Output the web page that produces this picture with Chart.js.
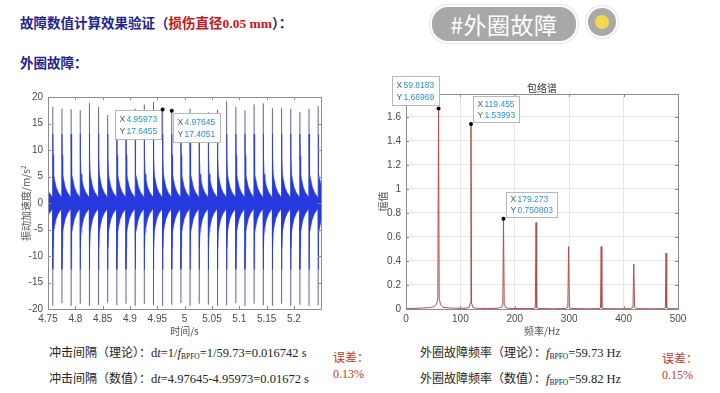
<!DOCTYPE html>
<html>
<head>
<meta charset="utf-8">
<script src="https://cdn.jsdelivr.net/npm/chart.js@4.4.1/dist/chart.umd.min.js"></script>
<style>
  body { margin: 0; background: #fff; }
  #page { position: relative; width: 720px; height: 393px; overflow: hidden; background: #fff;
          font-family: "Noto Sans CJK SC", sans-serif; }
  .t { position: absolute; white-space: nowrap; }
  .head { font-size: 13.5px; line-height: 14px; font-weight: bold; color: #23238f; }
  .head .red { color: #c4161c; }
  .num { font-family: "Liberation Serif", serif; }
  .line { font-size: 12px; line-height: 14px; color: #222; }
  .line .eq { font-family: "Liberation Serif", serif; font-size: 12.5px; }
  .line sub { font-size: 7.5px; vertical-align: -2px; }
  .err { font-size: 12px; line-height: 14px; color: #c0392b; }
  #pill { position: absolute; left: 430px; top: 5px; width: 144px; height: 34px; border-radius: 18px;
          background: #a8a8a8; border: 2px solid #fff; box-shadow: 0 0 0 1px #e2e2e2;
          color: #fff; font-size: 23px; line-height: 34px; text-align: center; letter-spacing: 0.5px; }
  #dot { position: absolute; left: 588px; top: 8px; width: 28px; height: 28px; border-radius: 50%;
         background: #a9a9a9; box-shadow: 0 0 0 2px #fff, 0 0 0 3px #e4e4e4; }
  #dot::after { content: ""; position: absolute; left: 7px; top: 7px; width: 14px; height: 14px;
                border-radius: 50%; background: #f4d94a; }
  canvas { position: absolute; }
</style>
</head>
<body>
<div id="page">
  <div class="t head" style="left:20px;top:15px">故障数值计算效果验证（<span class="red">损伤直径<span class="num">0.05 mm</span></span>）：</div>
  <div class="t head" style="left:20px;top:55px">外圈故障：</div>
  <div id="pill">#外圈故障</div>
  <div id="dot"></div>

  <canvas id="waveChart" width="340" height="254" style="left:0;top:86px"></canvas>
  <canvas id="specChart" width="360" height="264" style="left:360px;top:76px"></canvas>

  <div class="t line" style="left:49px;top:345px">冲击间隔（理论）：<span class="eq">d<i>t</i>=1/<i>f</i><sub>BPFO</sub>=1/59.73=0.016742 s</span></div>
  <div class="t line" style="left:49px;top:371px">冲击间隔（数值）：<span class="eq">d<i>t</i>=4.97645-4.95973=0.01672 s</span></div>
  <div class="t err" style="left:333px;top:350px">误差：</div>
  <div class="t err num" style="left:333px;top:367px">0.13%</div>

  <div class="t line" style="left:420px;top:345px">外圈故障频率（理论）：<span class="eq"><i>f</i><sub>BPFO</sub>=59.73 Hz</span></div>
  <div class="t line" style="left:420px;top:371px">外圈故障频率（数值）：<span class="eq"><i>f</i><sub>BPFO</sub>=59.82 Hz</span></div>
  <div class="t err" style="left:662px;top:351px">误差：</div>
  <div class="t err num" style="left:662px;top:368px">0.15%</div>
</div>

<script>
// 时域波形：冲击时刻、每次冲击的峰值
const impulseTimes = [4.7421, 4.7588, 4.7755, 4.7923, 4.8090, 4.8258, 4.8425, 4.8592, 4.8760, 4.8927,
  4.9095, 4.9262, 4.9430, 4.95973, 4.97645, 4.9932, 5.0099, 5.0267, 5.0434, 5.0602, 5.0769,
  5.0937, 5.1104, 5.1271, 5.1439, 5.1606, 5.1774, 5.1941, 5.2109, 5.2276, 5.2443];
const spikeTop = [18.0, 18.1, 17.8, 17.7, 17.5, 18.9, 18.1, 16.6, 16.6, 16.9, 17.8, 18.6, 19.1,
  17.6455, 17.4051, 16.6, 17.8, 16.6, 17.1, 17.6, 19.2, 18.1, 17.5, 18.6, 18.8, 17.9, 17.9,
  17.8, 17.2, 17.8, 18.3];
const spikeBottom = [-19.0, -19.4, -18.9, -19.4, -19.0, -19.4, -19.2, -18.8, -19.3, -19.0, -19.4,
  -19.0, -19.3, -19.4, -19.2, -18.9, -19.4, -19.0, -19.2, -19.4, -19.3, -18.9, -19.4, -19.0,
  -19.3, -19.4, -19.0, -19.4, -19.2, -19.4, -19.3];
// 每次冲击后的衰减包络（相对冲击时刻的偏移 / 上下包络幅值）
const envOffset = [0, 0.0005, 0.0015, 0.003, 0.006, 0.010, 0.0145, 0.0165];
const envUpper = [13, 9, 5.5, 4.5, 3, 2, 1.3, 1.0];
const envLower = [-12.5, -8.5, -5.5, -4.5, -3, -2, -1.3, -1.0];
const waveXTicks = [4.75, 4.8, 4.85, 4.9, 4.95, 5, 5.05, 5.1, 5.15, 5.2];
const waveYTicks = [-20, -15, -10, -5, 0, 5, 10, 15, 20];

// 包络谱
const specFreq = [0, 10, 30, 45, 52, 56, 58.5, 59.8183, 61, 63.5, 68, 80, 100,
  112, 116, 118.5, 119.455, 120.5, 123, 130,
  150, 170, 175.5, 178, 179.273, 180.5, 183, 190,
  220, 235, 237.8, 239, 240.2, 243,
  270, 293, 297.5, 298.9, 300.3, 304,
  330, 355, 357.6, 358.8, 360, 362.5,
  390, 413, 417.2, 418.7, 420.2, 424,
  450, 473, 476.8, 478, 479.2, 483, 500];
const specAmp = [0.002, 0.004, 0.008, 0.012, 0.02, 0.04, 0.09, 1.66969, 0.09, 0.035, 0.015, 0.008, 0.006,
  0.006, 0.015, 0.05, 1.53993, 0.05, 0.012, 0.006,
  0.004, 0.006, 0.015, 0.04, 0.750803, 0.04, 0.012, 0.005,
  0.003, 0.004, 0.012, 0.72, 0.012, 0.004,
  0.002, 0.004, 0.015, 0.52, 0.015, 0.004,
  0.002, 0.003, 0.01, 0.52, 0.01, 0.003,
  0.002, 0.003, 0.015, 0.375, 0.015, 0.003,
  0.002, 0.003, 0.01, 0.465, 0.01, 0.003, 0.002];
const specXTicks = [0, 100, 200, 300, 400, 500];
const specYTicks = [0, 0.2, 0.4, 0.6, 0.8, 1, 1.2, 1.4, 1.6];

// 数据提示
const waveTips = [
  { x: 4.95973, y: 17.6455, xs: '4.95973', ys: '17.6455', dx: -48, dy: 1, w: 46, h: 29 },
  { x: 4.97645, y: 17.4051, xs: '4.97645', ys: '17.4051', dx: 1, dy: 2, w: 47, h: 29 }
];
const specTips = [
  { x: 59.8183, y: 1.66969, xs: '59.8183', ys: '1.66969', dx: -47, dy: -32, w: 47, h: 29 },
  { x: 119.455, y: 1.53993, xs: '119.455', ys: '1.53993', dx: 2, dy: -28, w: 46, h: 26 },
  { x: 179.273, y: 0.750803, xs: '179.273', ys: '0.750803', dx: 2, dy: -27, w: 51, h: 25 }
];

const TICK_FONT = { family: 'Liberation Sans, Arial, sans-serif', size: 10 };
const LABEL_FONT = { family: 'Noto Sans CJK SC, sans-serif', size: 10 };

// 坐标框 + 向内的刻度线
const boxPlugin = {
  id: 'boxPlugin',
  afterDraw(chart) {
    const { ctx, chartArea: a, scales } = chart;
    ctx.save();
    ctx.strokeStyle = '#8c8c8c';
    ctx.lineWidth = 1;
    ctx.strokeRect(Math.round(a.left) + 0.5, Math.round(a.top) + 0.5,
      Math.round(a.right - a.left), Math.round(a.bottom - a.top));
    ctx.beginPath();
    scales.x.ticks.forEach(t => {
      const px = Math.round(scales.x.getPixelForValue(t.value)) + 0.5;
      ctx.moveTo(px, a.bottom); ctx.lineTo(px, a.bottom - 3);
      ctx.moveTo(px, a.top); ctx.lineTo(px, a.top + 3);
    });
    scales.y.ticks.forEach(t => {
      const py = Math.round(scales.y.getPixelForValue(t.value)) + 0.5;
      ctx.moveTo(a.left, py); ctx.lineTo(a.left + 3, py);
      ctx.moveTo(a.right, py); ctx.lineTo(a.right - 3, py);
    });
    ctx.stroke();
    const title = chart.options.plugins.boxPlugin && chart.options.plugins.boxPlugin.title;
    if (title) {
      ctx.fillStyle = '#333';
      ctx.font = '10px "Noto Sans CJK SC"';
      ctx.textAlign = 'center';
      ctx.textBaseline = 'middle';
      ctx.fillText(title, (a.left + a.right) / 2, a.top - 6);
    }
    ctx.restore();
  }
};

const tipPlugin = {
  id: 'tipPlugin',
  afterDraw(chart, args, opts) {
    const { ctx, scales } = chart;
    (opts.items || []).forEach(tip => {
      const px = scales.x.getPixelForValue(tip.x);
      const py = scales.y.getPixelForValue(tip.y);
      const bx = Math.round(px + tip.dx) + 0.5, by = Math.round(py + tip.dy) + 0.5;
      ctx.save();
      ctx.fillStyle = 'rgba(255,255,255,0.95)';
      ctx.strokeStyle = '#b8b8b8';
      ctx.lineWidth = 1;
      ctx.fillRect(bx, by, tip.w, tip.h);
      ctx.strokeRect(bx, by, tip.w, tip.h);
      ctx.font = '8.5px "Liberation Sans", Arial';
      ctx.textBaseline = 'middle';
      const rows = [['X', tip.xs], ['Y', tip.ys]];
      rows.forEach((r, i) => {
        const ty = by + tip.h * (i === 0 ? 0.3 : 0.72);
        ctx.fillStyle = '#555';
        ctx.fillText(r[0], bx + 4, ty);
        ctx.fillStyle = '#2f94c8';
        ctx.fillText(r[1], bx + 11, ty);
      });
      ctx.fillStyle = '#000';
      ctx.beginPath();
      ctx.arc(px, py, 2, 0, Math.PI * 2);
      ctx.fill();
      ctx.restore();
    });
  }
};

// 构造波形点
const upperPts = [], lowerPts = [], spikePts = [];
impulseTimes.forEach((t, i) => {
  envOffset.forEach((o, j) => {
    upperPts.push({ x: t + o, y: envUpper[j] });
    lowerPts.push({ x: t + o, y: envLower[j] });
  });
  spikePts.push({ x: t, y: spikeBottom[i] }, { x: t, y: spikeTop[i] }, { x: t, y: null });
});
const specPts = specFreq.map((f, i) => ({ x: f, y: specAmp[i] }));

function tickLabel(v) { return String(+Number(v).toFixed(4)); }

function axis(min, max, ticksArr, title, fixSize, isX, grid) {
  return {
    type: 'linear', min: min, max: max,
    afterBuildTicks: s => { s.ticks = ticksArr.map(v => ({ value: v })); },
    afterFit: s => { if (isX) s.height = fixSize; else s.width = fixSize; },
    grid: { display: grid, color: '#e6e6e6', drawTicks: false },
    border: { display: false },
    ticks: { font: TICK_FONT, color: '#4a4a4a', padding: isX ? 4 : 5, callback: tickLabel, maxRotation: 0, autoSkip: false },
    title: { display: true, text: title, font: LABEL_FONT, color: '#555', padding: isX ? { top: 2, bottom: 3 } : { top: 0, bottom: 2 } }
  };
}

new Chart(document.getElementById('waveChart'), {
  type: 'line',
  data: {
    datasets: [
      { data: upperPts, fill: '+1', backgroundColor: '#2539df', borderColor: '#2539df', borderWidth: 0.6, pointRadius: 0 },
      { data: lowerPts, fill: false, borderColor: '#2539df', borderWidth: 0.6, pointRadius: 0 },
      { data: spikePts, fill: false, borderColor: 'rgba(68,70,140,0.85)', borderWidth: 1, pointRadius: 0, spanGaps: false }
    ]
  },
  options: {
    responsive: false, animation: false, devicePixelRatio: 1,
    layout: { padding: { top: 9, right: 19, left: 20, bottom: 0 } },
    plugins: { legend: { display: false }, tooltip: { enabled: false }, tipPlugin: { items: waveTips } },
    scales: {
      x: axis(4.75, 5.2495, waveXTicks, '时间/s', 31, true, false),
      y: axis(-20, 20, waveYTicks, '振动加速度/m/s²', 28, false, false)
    }
  },
  plugins: [boxPlugin, tipPlugin]
});

new Chart(document.getElementById('specChart'), {
  type: 'line',
  data: {
    datasets: [
      { data: specPts, fill: false, borderColor: '#b84a4a', borderWidth: 1, pointRadius: 0, tension: 0 }
    ]
  },
  options: {
    responsive: false, animation: false, devicePixelRatio: 1,
    layout: { padding: { top: 18, right: 42, left: 17, bottom: 0 } },
    plugins: { legend: { display: false }, tooltip: { enabled: false },
               boxPlugin: { title: '包络谱' }, tipPlugin: { items: specTips } },
    scales: {
      x: axis(0, 500, specXTicks, '频率/Hz', 31, true, true),
      y: axis(0, 1.79, specYTicks, '幅值', 29, false, true)
    }
  },
  plugins: [boxPlugin, tipPlugin]
});
</script>
</body>
</html>
